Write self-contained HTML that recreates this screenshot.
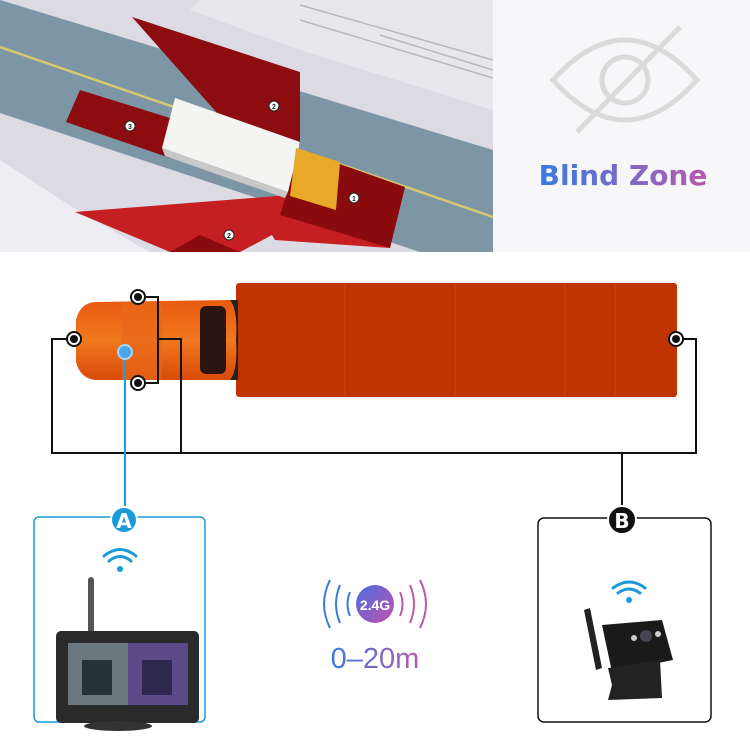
<!DOCTYPE html>
<html><head><meta charset="utf-8"><style>
html,body{margin:0;padding:0;background:#fff}
svg{display:block}
</style></head><body>
<svg width="750" height="750" viewBox="0 0 750 750" xmlns="http://www.w3.org/2000/svg">
<defs>
<linearGradient id="tg" x1="0" x2="1" y1="0" y2="0"><stop offset="0" stop-color="#3a7be0"/><stop offset="1" stop-color="#b85aae"/></linearGradient>
<linearGradient id="cg" x1="0" x2="1" y1="0" y2="1"><stop offset="0" stop-color="#4a6fe0"/><stop offset="1" stop-color="#c052b0"/></linearGradient>
<linearGradient id="cab" x1="0" x2="0" y1="0" y2="1"><stop offset="0" stop-color="#e85a10"/><stop offset="0.5" stop-color="#f0781e"/><stop offset="1" stop-color="#d84a08"/></linearGradient>
</defs>
<!-- top photo -->
<rect x="0" y="0" width="493" height="252" fill="#dcdae2"/>
<polygon points="0,0 493,150 493,252 420,252 0,113" fill="#7d96a6"/>
<line x1="0" y1="47" x2="493" y2="217" stroke="#d8c870" stroke-width="2.5"/>
<polygon points="0,160 0,252 150,252 80,212" fill="#eeeef2"/>
<polygon points="200,0 493,0 493,110 300,50 190,10" fill="#e8e8ec"/>
<g stroke="#b8b8be" stroke-width="1.5" fill="none">
<line x1="300" y1="5" x2="493" y2="60"/><line x1="300" y1="20" x2="493" y2="78"/><line x1="380" y1="35" x2="493" y2="70"/></g>
<polygon points="132,17 300,72 300,145 225,122" fill="#8c0c10"/>
<polygon points="80,90 170,118 170,158 66,122" fill="#8c0c10"/>
<polygon points="75,212 290,195 405,187 390,248 275,240 272,235 240,252 170,252" fill="#c51f24"/>
<polygon points="300,150 405,187 390,248 280,215" fill="#8a0b0e"/>
<polygon points="170,252 240,252 200,235" fill="#8a0b0e"/>
<polygon points="175,98 300,142 288,192 162,148" fill="#f4f4f2"/>
<polygon points="162,148 288,192 285,198 165,156" fill="#c8c8c8"/>
<polygon points="296,148 340,162 336,210 290,196" fill="#e8a828"/>
<g fill="#fff" stroke="#222" stroke-width="1" font-family="Liberation Sans" font-size="7" font-weight="bold" text-anchor="middle">
<circle cx="274" cy="106" r="5"/><circle cx="130" cy="126" r="5"/><circle cx="354" cy="198" r="5"/><circle cx="229" cy="235" r="5"/></g>
<g fill="#222" font-family="Liberation Sans" font-size="7" font-weight="bold" text-anchor="middle">
<text x="274" y="109">2</text><text x="130" y="129">3</text><text x="354" y="201">1</text><text x="229" y="238">2</text></g>
<!-- right top panel -->
<rect x="493" y="0" width="257" height="252" fill="#f7f7f9"/>
<g stroke="#dadada" stroke-width="5" fill="none">
<path d="M553,80 Q625,0 697,80 Q625,160 553,80 Z"/>
<circle cx="625" cy="80" r="23"/>
<line x1="680" y1="27" x2="577" y2="132"/></g>
<text x="623" y="185" text-anchor="middle" font-family="DejaVu Sans" font-weight="bold" font-size="28" fill="url(#tg)">Blind Zone</text>
<!-- truck -->
<rect x="236" y="283" width="441" height="114" rx="3" fill="#bf3300"/>
<g stroke="#c9470f" stroke-width="1"><line x1="345" y1="285" x2="345" y2="395"/><line x1="455" y1="285" x2="455" y2="395"/><line x1="565" y1="285" x2="565" y2="395"/><line x1="615" y1="285" x2="615" y2="395"/></g>
<rect x="226" y="300" width="12" height="80" fill="#222"/>
<path d="M95,302 Q80,303 76,320 L76,362 Q80,378 95,380 L230,380 Q238,370 236,340 Q238,310 230,300 Z" fill="url(#cab)"/>
<rect x="122" y="302" width="40" height="78" fill="#e8661a" opacity="0.7"/>
<rect x="200" y="306" width="26" height="68" rx="6" fill="#2a1510"/>
<!-- connectors -->
<g stroke="#111" stroke-width="2" fill="none">
<polyline points="74,339 52,339 52,453 696,453 696,339 676,339"/>
<polyline points="138,297 158,297 158,383 138,383"/>
<polyline points="158,339 181,339 181,453"/>
<line x1="622" y1="453" x2="622" y2="510"/>
</g>
<g>
<circle cx="138" cy="297" r="7" fill="#fff" stroke="#111" stroke-width="2"/><circle cx="138" cy="297" r="4" fill="#111"/>
<circle cx="138" cy="383" r="7" fill="#fff" stroke="#111" stroke-width="2"/><circle cx="138" cy="383" r="4" fill="#111"/>
<circle cx="74" cy="339" r="7" fill="#fff" stroke="#111" stroke-width="2"/><circle cx="74" cy="339" r="4" fill="#111"/>
<circle cx="676" cy="339" r="7" fill="#fff" stroke="#111" stroke-width="2"/><circle cx="676" cy="339" r="4" fill="#111"/>
</g>
<line x1="125" y1="352" x2="125" y2="510" stroke="#1aa0e0" stroke-width="2"/>
<circle cx="125" cy="352" r="7" fill="#4aa8e8" stroke="#a8d4f4" stroke-width="2"/>
<!-- box A -->
<rect x="34" y="517" width="171" height="205" rx="5" fill="none" stroke="#1a9ad8" stroke-width="1.5"/>
<circle cx="124" cy="520" r="13" fill="#1a9ad8" stroke="#fff" stroke-width="2"/>
<text x="124" y="528" text-anchor="middle" font-family="DejaVu Sans" font-weight="bold" font-size="20" fill="#fff">A</text>
<g fill="none" stroke="#1a9ad8" stroke-width="3" stroke-linecap="round">
<path d="M104,556 Q120,543 136,556"/><path d="M109,561 Q120,552 131,561"/></g>
<circle cx="120" cy="569" r="3" fill="#1a9ad8"/>
<rect x="88" y="577" width="6" height="58" rx="3" fill="#555"/>
<rect x="56" y="631" width="143" height="92" rx="5" fill="#2a2a2a"/>
<rect x="68" y="643" width="60" height="62" fill="#6c7880"/>
<rect x="128" y="643" width="60" height="62" fill="#5a4a88"/>
<rect x="82" y="660" width="30" height="35" fill="#26323a"/><rect x="142" y="660" width="30" height="35" fill="#2e2850"/>
<ellipse cx="118" cy="726" rx="34" ry="5" fill="#333"/>
<!-- center -->
<circle cx="375" cy="604" r="19" fill="url(#cg)"/>
<text x="375" y="610" text-anchor="middle" font-family="Liberation Sans" font-weight="bold" font-size="14" fill="#fff">2.4G</text>
<g fill="none" stroke-width="2">
<g stroke="#3a7be0"><path d="M350,592 Q345,604 350,616"/><path d="M340,585 Q332,604 340,623"/><path d="M330,580 Q318,604 330,628"/></g>
<g stroke="#b85aae"><path d="M400,592 Q405,604 400,616"/><path d="M410,585 Q418,604 410,623"/><path d="M420,580 Q432,604 420,628"/></g></g>
<text x="375" y="668" text-anchor="middle" font-family="Liberation Sans" font-size="29" fill="url(#tg)">0–20m</text>
<!-- box B -->
<rect x="538" y="518" width="173" height="204" rx="6" fill="none" stroke="#111" stroke-width="1.5"/>
<circle cx="622" cy="520" r="14" fill="#111" stroke="#fff" stroke-width="2"/>
<text x="622" y="528" text-anchor="middle" font-family="DejaVu Sans" font-weight="bold" font-size="20" fill="#fff">B</text>
<g fill="none" stroke="#1a9ad8" stroke-width="3" stroke-linecap="round">
<path d="M613,588 Q629,576 645,588"/><path d="M618,593 Q629,585 640,593"/></g>
<circle cx="629" cy="600" r="3" fill="#1a9ad8"/>
<polygon points="584,610 590,608 602,668 596,670" fill="#222"/>
<polygon points="602,625 662,620 673,660 612,672" fill="#1a1a1a"/>
<polygon points="608,668 660,660 662,698 608,700 612,685" fill="#222"/>
<circle cx="646" cy="636" r="6" fill="#445"/><circle cx="634" cy="638" r="3" fill="#ccc"/><circle cx="658" cy="634" r="3" fill="#ccc"/>
</svg>
</body></html>
